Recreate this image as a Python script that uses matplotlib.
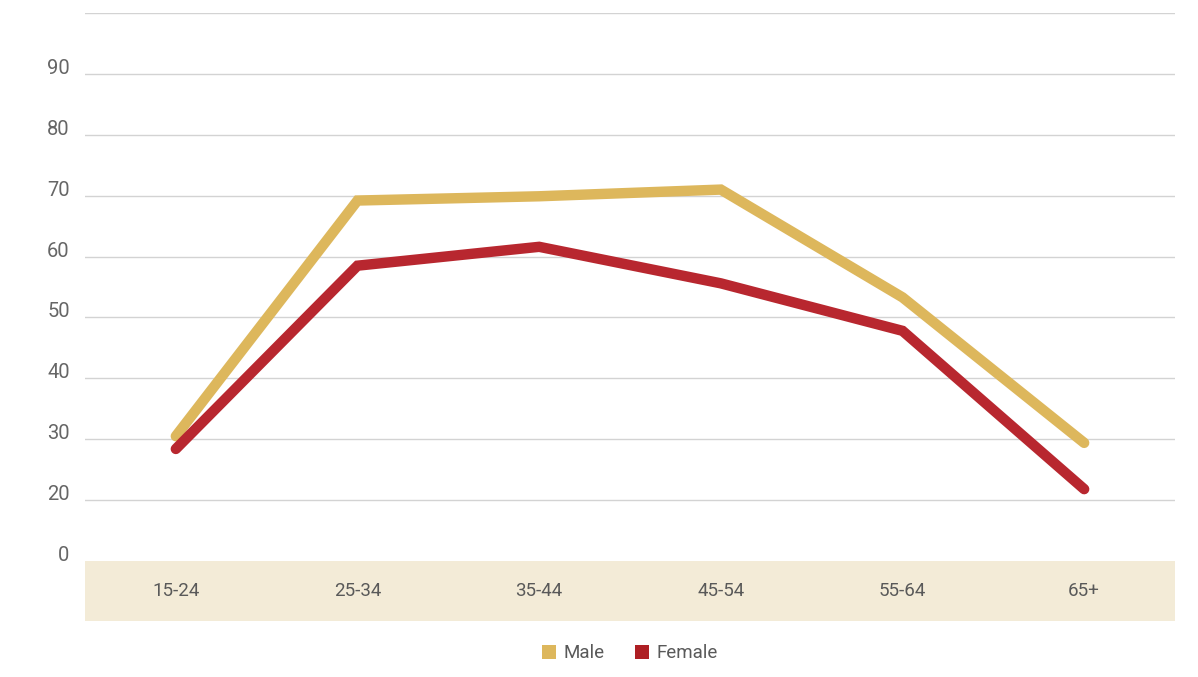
import matplotlib.pyplot as plt
from matplotlib.patches import Patch

plt.rcParams['font.family'] = ['Roboto', 'DejaVu Sans']

ageGroups = ['15-24', '25-34', '35-44', '45-54', '55-64', '65+']
male = [30.5, 69.2, 69.9, 71.0, 53.3, 29.4]
female = [28.4, 58.5, 61.6, 55.6, 47.8, 21.8]
yTicks = [10, 20, 30, 40, 50, 60, 70, 80, 90]
yTickLabels = ['0', '20', '30', '40', '50', '60', '70', '80', '90']

maleColor = '#DDB75C'
femaleColor = '#B8272F'
bandColor = '#F3EBD7'
textColor = '#595959'

W, H = 1198, 677
fig = plt.figure(figsize=(W / 100, H / 100), dpi=100)
# axes from x=85..1175, y=13..621 px (band occupies 561..621)
ax = fig.add_axes([85 / W, (H - 621) / H, (1175 - 85) / W, (621 - 13) / H])

pxPerUnit = (561 - 13) / 90.0
yBottom = 10 - (621 - 561) / pxPerUnit
ax.set_ylim(yBottom, 100)
ax.set_xlim(-0.5, len(ageGroups) - 0.5)

# grid lines
for v in yTicks[1:] + [100]:
    ax.axhline(v, color='#D3D3D3', lw=1, zorder=0)
# category band
ax.axhspan(yBottom, 10, color=bandColor, lw=0, zorder=1)

xs = range(len(ageGroups))
ax.plot(xs, male, color=maleColor, lw=7.5, solid_capstyle='round',
        solid_joinstyle='miter', zorder=3)
ax.plot(xs, female, color=femaleColor, lw=7.5, solid_capstyle='round',
        solid_joinstyle='miter', zorder=4)

# x category labels inside the band
for i, name in enumerate(ageGroups):
    ax.text(i, (yBottom + 10) / 2, name, ha='center', va='center',
            fontsize=13.5, color=textColor, zorder=5)

ax.set_xticks([])
ax.set_yticks(yTicks)
ax.set_yticklabels(yTickLabels, fontsize=14.5, color='#666666', va='baseline')
ax.tick_params(axis='y', length=0, pad=11)
for s in ax.spines.values():
    s.set_visible(False)

handles = [Patch(facecolor=maleColor, label='Male'),
           Patch(facecolor='#AE1F24', label='Female')]
fig.legend(handles=handles, loc='center', bbox_to_anchor=(0.526, 0.035),
           ncol=2, frameon=False, fontsize=13.5, handlelength=0.75,
           handleheight=0.75, handletextpad=0.4, columnspacing=1.6,
           labelcolor=textColor)

fig.savefig('out.png', dpi=100)
